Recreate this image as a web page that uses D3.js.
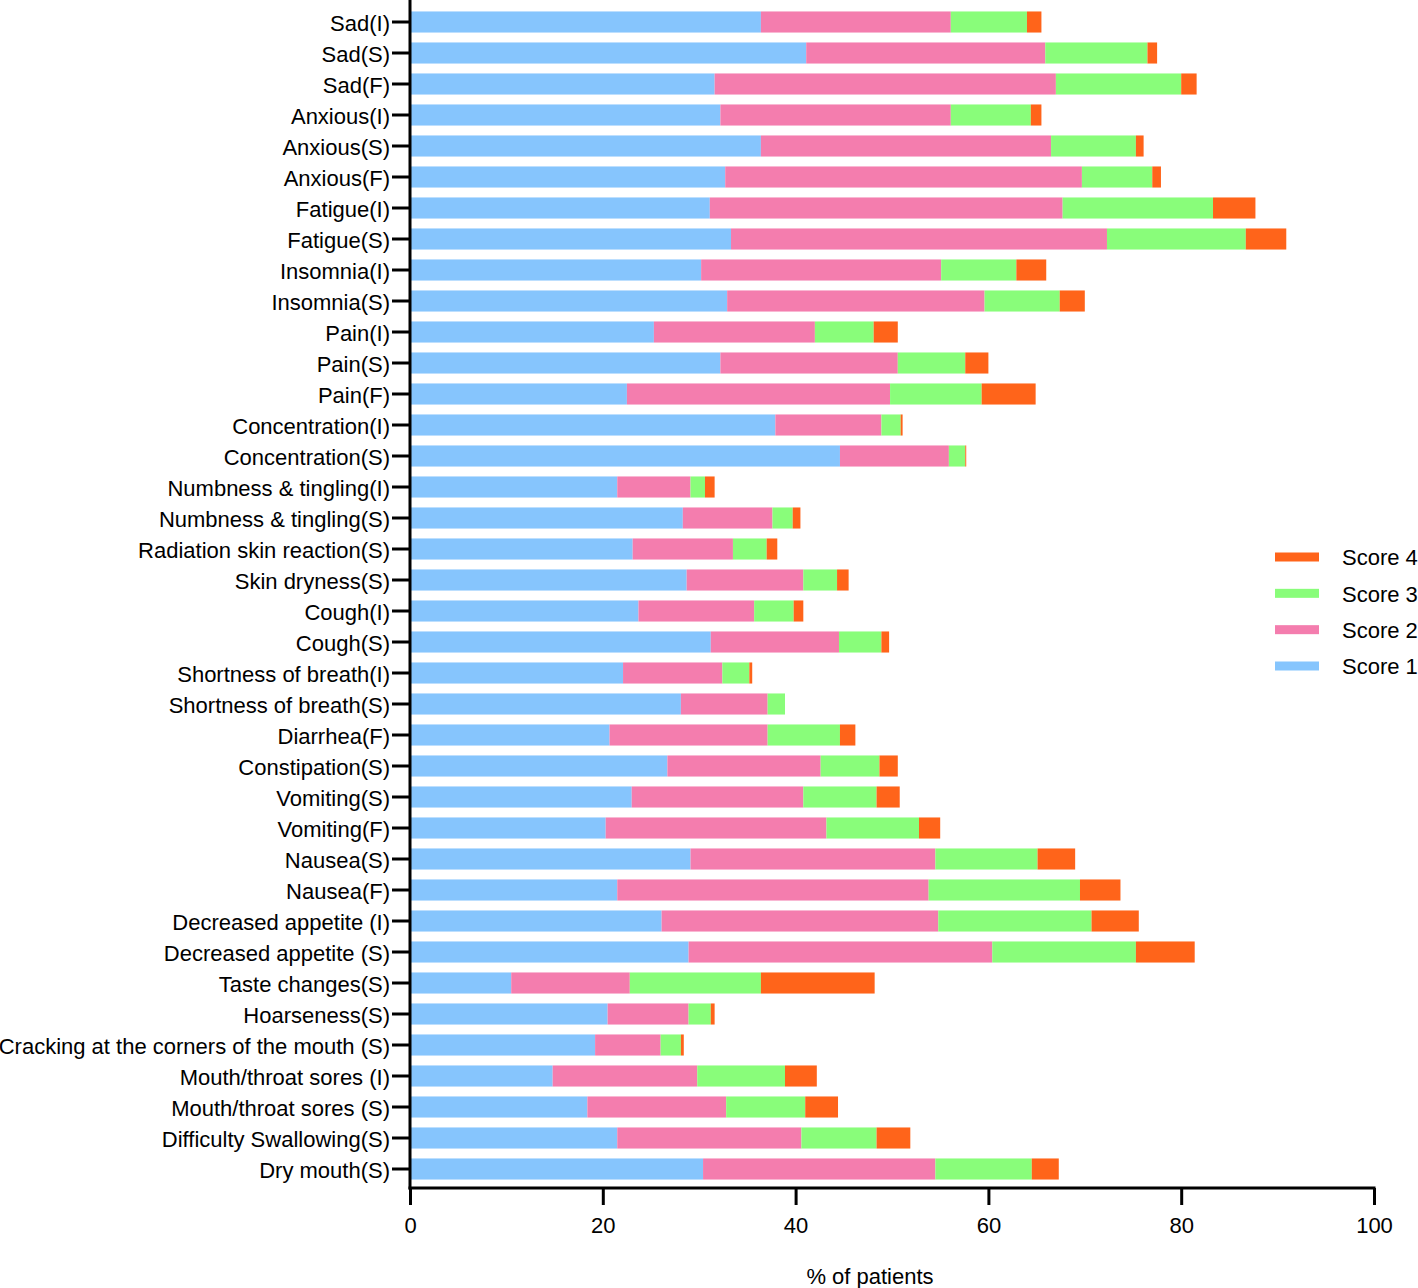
<!DOCTYPE html>
<html>
<head>
<meta charset="utf-8">
<script src="https://cdn.jsdelivr.net/npm/d3@7"></script>
<style>
  html, body { margin: 0; padding: 0; background: #fff; }
  svg { display: block; font-family: "Liberation Sans", Arial, Helvetica, sans-serif; }
</style>
</head>
<body>
<svg id="chart" width="1418" height="1288"></svg>
<script>
const categories = [
  "Sad(I)", "Sad(S)", "Sad(F)", "Anxious(I)", "Anxious(S)", "Anxious(F)",
  "Fatigue(I)", "Fatigue(S)", "Insomnia(I)", "Insomnia(S)", "Pain(I)", "Pain(S)", "Pain(F)",
  "Concentration(I)", "Concentration(S)", "Numbness & tingling(I)", "Numbness & tingling(S)",
  "Radiation skin reaction(S)", "Skin dryness(S)", "Cough(I)", "Cough(S)",
  "Shortness of breath(I)", "Shortness of breath(S)", "Diarrhea(F)", "Constipation(S)",
  "Vomiting(S)", "Vomiting(F)", "Nausea(S)", "Nausea(F)", "Decreased appetite (I)",
  "Decreased appetite (S)", "Taste changes(S)", "Hoarseness(S)",
  "Cracking at the corners of the mouth (S)", "Mouth/throat sores (I)", "Mouth/throat sores (S)",
  "Difficulty Swallowing(S)", "Dry mouth(S)"
];

const score1 = [36.4, 41.1, 31.6, 32.2, 36.4, 32.7, 31.1, 33.3, 30.2, 32.9, 25.3, 32.2, 22.5,
  37.9, 44.6, 21.5, 28.3, 23.1, 28.7, 23.7, 31.2, 22.1, 28.1, 20.7, 26.7, 23.0, 20.3, 29.1,
  21.5, 26.1, 28.9, 10.5, 20.5, 19.2, 14.8, 18.4, 21.5, 30.4];
const score2 = [19.7, 24.8, 35.4, 23.9, 30.1, 37.0, 36.6, 39.0, 24.9, 26.7, 16.7, 18.4, 27.3,
  11.0, 11.3, 7.6, 9.3, 10.4, 12.1, 12.0, 13.3, 10.3, 9.0, 16.4, 15.9, 17.8, 22.9, 25.4,
  32.3, 28.7, 31.5, 12.3, 8.4, 6.8, 15.0, 14.4, 19.1, 24.1];
const score3 = [7.9, 10.6, 13.0, 8.3, 8.8, 7.3, 15.6, 14.4, 7.8, 7.8, 6.1, 7.0, 9.5,
  2.0, 1.7, 1.5, 2.1, 3.5, 3.5, 4.1, 4.4, 2.8, 1.8, 7.5, 6.1, 7.6, 9.6, 10.6,
  15.7, 15.9, 14.9, 13.6, 2.3, 2.1, 9.1, 8.2, 7.8, 10.0];
const score4 = [1.5, 1.0, 1.6, 1.1, 0.8, 0.9, 4.4, 4.2, 3.1, 2.6, 2.5, 2.4, 5.6,
  0.2, 0.1, 1.0, 0.8, 1.1, 1.2, 1.0, 0.8, 0.3, 0.0, 1.6, 1.9, 2.4, 2.2, 3.9,
  4.2, 4.9, 6.1, 11.8, 0.4, 0.3, 3.3, 3.4, 3.5, 2.8];

const seriesNames = ["Score 1", "Score 2", "Score 3", "Score 4"];
const seriesColors = ["#86C5FD", "#F47DAE", "#89FD7A", "#FF641A"];
const xTicks = [0, 20, 40, 60, 80, 100];
const xTitle = "% of patients";

const rows = categories.map((c, i) => ({
  cat: c, "Score 1": score1[i], "Score 2": score2[i], "Score 3": score3[i], "Score 4": score4[i]
}));
const stacked = d3.stack().keys(seriesNames)(rows);

const svg = d3.select("#chart");
const FONT = "22px";
const left = 410, right = 1374, axisY = 1188;

const x = d3.scaleLinear().domain([0, 100]).range([left, right]);
const y = d3.scaleBand().domain(categories).range([6.5, 1184.5])
  .paddingInner(0.32).paddingOuter(0.16);
const color = d3.scaleOrdinal().domain(seriesNames).range(seriesColors);

// bars
svg.append("g").selectAll("g").data(stacked).join("g")
  .attr("fill", d => color(d.key))
  .selectAll("rect").data(d => d).join("rect")
  .attr("x", d => x(d[0]))
  .attr("y", d => y(d.data.cat))
  .attr("width", d => Math.max(0, x(d[1]) - x(d[0])))
  .attr("height", y.bandwidth());

// y axis
const yAxis = svg.append("g").attr("transform", `translate(${left},0)`)
  .call(d3.axisLeft(y).tickSize(18).tickPadding(2).tickSizeOuter(0));
yAxis.select(".domain").remove();
yAxis.selectAll(".tick line").attr("stroke", "#000").attr("stroke-width", 3);
yAxis.selectAll(".tick text").attr("fill", "#000").style("font-size", FONT)
  .attr("dy", "0.4em")
  .style("font-family", "'Liberation Sans', Arial, sans-serif");
svg.append("line").attr("x1", left).attr("x2", left).attr("y1", 0).attr("y2", axisY + 1.5)
  .attr("stroke", "#000").attr("stroke-width", 3);

// x axis
const xAxis = svg.append("g").attr("transform", `translate(0,${axisY})`)
  .call(d3.axisBottom(x).tickValues(xTicks).tickSize(17).tickPadding(12).tickSizeOuter(0));
xAxis.select(".domain").attr("stroke", "#000").attr("stroke-width", 3)
  .attr("d", `M${left - 1.5},0H${right + 1.5}`);
xAxis.selectAll(".tick line").attr("stroke", "#000").attr("stroke-width", 3);
xAxis.selectAll(".tick text").attr("fill", "#000").style("font-size", FONT)
  .style("font-family", "'Liberation Sans', Arial, sans-serif");

svg.append("text").attr("x", 870).attr("y", 1284)
  .attr("text-anchor", "middle").style("font-size", FONT).text(xTitle);

// legend (Score 4 at top)
const legendOrder = seriesNames.slice().reverse();
const ly = d3.scalePoint().domain(legendOrder).range([557, 666]);
const lg = svg.append("g").selectAll("g").data(legendOrder).join("g")
  .attr("transform", d => `translate(1275,${ly(d)})`);
lg.append("rect").attr("x", 0).attr("y", -4.5).attr("width", 44).attr("height", 9)
  .attr("fill", d => color(d));
lg.append("text").attr("x", 67).attr("y", 0).attr("dy", "0.38em")
  .style("font-size", FONT).text(d => d);
</script>
</body>
</html>
